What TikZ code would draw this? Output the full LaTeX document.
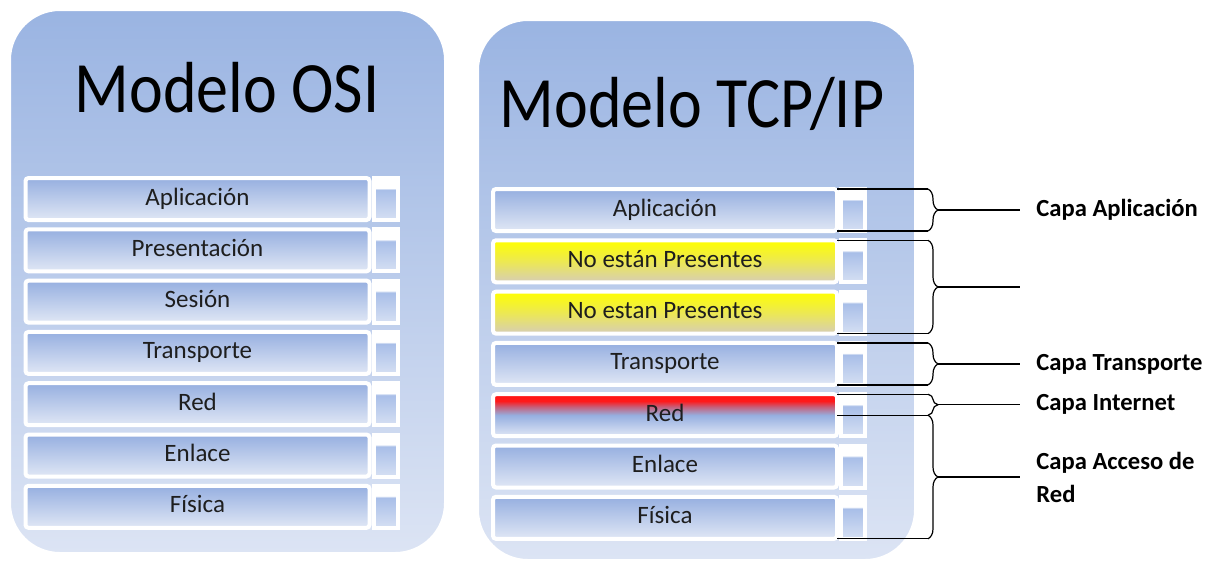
\documentclass[tikz,border=0pt]{standalone}
\usepackage{fontspec}
\setmainfont{Carlito}
\usepackage{tikz}
\usetikzlibrary{positioning,calc,decorations.pathreplacing}
\pgfdeclarelayer{bg}
\pgfsetlayers{bg,main}

\definecolor{panelTop}{RGB}{154,180,226}
\definecolor{panelBot}{RGB}{220,228,244}
\definecolor{barTop}{RGB}{150,175,224}
\definecolor{barBot}{RGB}{224,231,245}
\definecolor{sideTop}{RGB}{168,190,232}
\definecolor{sideBot}{RGB}{214,224,243}
\definecolor{tanC}{RGB}{214,205,182}
\definecolor{textC}{RGB}{30,30,30}

% side block: white rim on top, light blue below
\pgfdeclareverticalshading{sideshade}{100bp}{color(0bp)=(sideBot); color(25bp)=(sideBot); color(61bp)=(sideTop); color(63bp)=(white); color(100bp)=(white)}
% red strip on the top of the Red layer
\pgfdeclareverticalshading{redbar}{100bp}{color(0bp)=(barBot); color(25bp)=(barBot); color(50bp)=(barTop); color(60bp)=(red!45!barTop); color(67bp)=(red!90); color(100bp)=(red)}

\begin{document}
\begin{tikzpicture}[
				x = 0.5pt, y = -0.5pt,
				panel/.style = {draw=white, line width=1pt, rounded corners=25pt, top color=panelTop, bottom color=panelBot},
				title/.style = {font=\fontsize{32}{36}\selectfont, anchor=base},
				layer/.style = {draw=white, line width=2pt, rounded corners=1.5pt, outer sep=0pt, inner sep=0pt,
					minimum width=172pt, minimum height=21pt, top color=barTop, bottom color=barBot,
					text=textC, font=\fontsize{12.5}{14}\selectfont, text height=9pt, text depth=3pt},
				yellowlayer/.style = {top color=yellow, bottom color=tanC, middle color=yellow!55!tanC},
				redlayer/.style = {shading=redbar},
				sidebox/.style = {draw=white, line width=2pt, outer sep=0pt, inner sep=0pt,
					minimum width=12pt, minimum height=21pt, shading=sideshade},
				bline/.style = {draw=black, line width=0.6pt},
				curly/.style = {decorate, decoration={brace, amplitude=5pt}},
				capa/.style = {anchor=west, inner xsep=8pt, align=left, text=black,
					font=\bfseries\fontsize{12.3}{16.5}\selectfont}
				]
				\useasboundingbox (0,0) rectangle (1226,564);
				
				\begin{pgfonlayer}{bg}
				\draw [panel] (10,10) rectangle (445,553);
				\draw [panel] (478,20) rectangle (915,560);
				\end{pgfonlayer}
				
				\node [title] (osiTitle) at (227,112) {\scalebox{1}[1.13]{Modelo OSI}};
				\node [title] (tcpTitle) at (692,127) {\scalebox{1}[1.13]{Modelo TCP/IP}};
				
				% OSI stack
				\node [layer] (osi1) at (197.5,199) {Aplicación};
				\node [layer, below=4.65pt of osi1] (osi2) {Presentación};
				\node [layer, below=4.65pt of osi2] (osi3) {Sesión};
				\node [layer, below=4.65pt of osi3] (osi4) {Transporte};
				\node [layer, below=4.65pt of osi4] (osi5) {Red};
				\node [layer, below=4.65pt of osi5] (osi6) {Enlace};
				\node [layer, below=4.65pt of osi6] (osi7) {Física};
				\node [sidebox, right=2pt of osi1] (osi1s) {};
				\node [sidebox, right=2pt of osi2] (osi2s) {};
				\node [sidebox, right=2pt of osi3] (osi3s) {};
				\node [sidebox, right=2pt of osi4] (osi4s) {};
				\node [sidebox, right=2pt of osi5] (osi5s) {};
				\node [sidebox, right=2pt of osi6] (osi6s) {};
				\node [sidebox, right=2pt of osi7] (osi7s) {};
				
				% TCP/IP stack
				\node [layer] (tcp1) at (665,210) {Aplicación};
				\node [layer, yellowlayer, below=4.65pt of tcp1] (tcp2) {No están Presentes};
				\node [layer, yellowlayer, below=4.65pt of tcp2] (tcp3) {No estan Presentes};
				\node [layer, below=4.65pt of tcp3] (tcp4) {Transporte};
				\node [layer, redlayer, below=4.65pt of tcp4] (tcp5) {Red};
				\node [layer, below=4.65pt of tcp5] (tcp6) {Enlace};
				\node [layer, below=4.65pt of tcp6] (tcp7) {Física};
				\node [sidebox, right=2pt of tcp1] (tcp1s) {};
				\node [sidebox, right=2pt of tcp2] (tcp2s) {};
				\node [sidebox, right=2pt of tcp3] (tcp3s) {};
				\node [sidebox, right=2pt of tcp4] (tcp4s) {};
				\node [sidebox, right=2pt of tcp5] (tcp5s) {};
				\node [sidebox, right=2pt of tcp6] (tcp6s) {};
				\node [sidebox, right=2pt of tcp7] (tcp7s) {};
				
				\coordinate (bx) at (928,0);
				\coordinate (lx) at (1020,0);
				
				% Capa Aplicacion
				\draw [bline] (tcp1.north east) -- (tcp1.north east -| bx) coordinate (b1t);
				\draw [bline] (tcp1.south east) -- (tcp1.south east -| bx) coordinate (b1b);
				\draw [bline, curly] (b1t) -- (b1b);
				\coordinate (b1m) at ($(b1t)!.5!(b1b)$);
				\node [capa] (capApp) at (b1m -| lx) {Capa Aplicación};
				\draw [bline] ([xshift=5pt]b1m) -- (capApp.west);
				
				% no estan presentes
				\draw [bline] (tcp2.north east) -- (tcp2.north east -| bx) coordinate (b2t);
				\draw [bline] (tcp3.south east) -- (tcp3.south east -| bx) coordinate (b2b);
				\draw [bline, curly] (b2t) -- (b2b);
				\coordinate (b2m) at ($(b2t)!.5!(b2b)$);
				\coordinate (capNone) at (b2m -| lx);
				\draw [bline] ([xshift=5pt]b2m) -- (capNone);
				
				% Capa Transporte
				\draw [bline] (tcp4.north east) -- (tcp4.north east -| bx) coordinate (b3t);
				\draw [bline] (tcp4.south east) -- (tcp4.south east -| bx) coordinate (b3b);
				\draw [bline, curly] (b3t) -- (b3b);
				\coordinate (b3m) at ($(b3t)!.5!(b3b)$);
				\node [capa] (capTra) at (b3m -| lx) {Capa Transporte};
				\draw [bline] ([xshift=5pt]b3m) -- (capTra.west);
				
				% Capa Internet
				\draw [bline] (tcp5.north east) -- (tcp5.north east -| bx) coordinate (b4t);
				\draw [bline] (tcp5.east) -- (tcp5.east -| bx) coordinate (b4b);
				\draw [bline, curly] (b4t) -- (b4b);
				\coordinate (b4m) at ($(b4t)!.5!(b4b)$);
				\node [capa] (capInt) at (b4m -| lx) {Capa Internet};
				\draw [bline] ([xshift=5pt]b4m) -- (capInt.west);
				
				% Capa Acceso de Red
				\draw [bline] (tcp7.south east) -- (tcp7.south east -| bx) coordinate (b5b);
				\draw [bline, curly] (b4b) -- (b5b);
				\coordinate (b5m) at ($(b4b)!.5!(b5b)$);
				\node [capa] (capAcc) at (b5m -| lx) {Capa Acceso de\\Red};
				\draw [bline] ([xshift=5pt]b5m) -- (capAcc.west);
			\end{tikzpicture}
\end{document}
